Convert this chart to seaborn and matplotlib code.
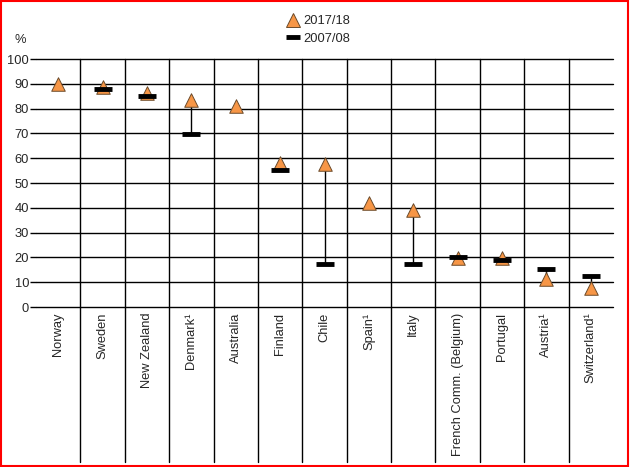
import numpy as np
import pandas as pd
import matplotlib
matplotlib.use("Agg")
import matplotlib.pyplot as plt
from matplotlib.lines import Line2D
from matplotlib.patches import Rectangle
import seaborn as sns

# ── Data ────────────────────────────────────────────────────────────────────
countries = ["Norway", "Sweden", "New Zealand", "Denmark\u00b9", "Australia",
             "Finland", "Chile", "Spain\u00b9", "Italy",
             "French Comm. (Belgium)", "Portugal", "Austria\u00b9",
             "Switzerland\u00b9"]
y2017 = [89.8, 88.9, 86.1, 83.3, 80.9, 58.2, 57.5, 42.0, 39.2, 19.9, 19.9, 11.4, 7.8]
y2007 = [np.nan, 88.1, 85.2, 69.6, np.nan, 55.1, 17.2, np.nan, 17.2, 20.3, 19.0, 15.3, 12.4]

df = pd.DataFrame({"country": countries, "y2017": y2017, "y2007": y2007})
df["pos"] = np.arange(len(df))

# ── Style ───────────────────────────────────────────────────────────────────
sns.set_theme(style="white")
plt.rcParams["font.family"] = ["Liberation Sans", "DejaVu Sans"]
FS = 9.3

fig = plt.figure(figsize=(6.3, 4.67), dpi=100)
ax = fig.add_axes([36/630, 1-307/467, (613-36)/630, (307-59)/467])

# connecting lines
both = df.dropna(subset=["y2007"])
ax.vlines(both["pos"], both["y2007"], both["y2017"], color="black", lw=1, zorder=2)

sns.scatterplot(data=df, x="pos", y="y2017", marker="^", s=95, color="#F79646",
                edgecolor="#6b4a2a", linewidth=0.7, ax=ax, zorder=3, legend=False,
                clip_on=False)
ax.scatter(both["pos"], both["y2007"], marker="_", s=165, color="black",
           linewidths=3.5, zorder=4)

ax.set_xlim(-0.5, len(df) - 0.5)
ax.set_ylim(0, 100)
ax.set_yticks(range(0, 101, 10))
ax.set_xticks(df["pos"])
ax.set_xticklabels(df["country"], rotation=90, va="top", fontsize=FS)
ax.tick_params(axis="y", labelsize=FS, length=4, width=1, color="black", pad=1, left=True)
ax.tick_params(axis="x", length=0, pad=4)
ax.set_xlabel("")
ax.set_ylabel("")

for sp in ax.spines.values():
    sp.set_visible(False)

for v in range(0, 101, 10):
    ax.axhline(v, color="black", lw=1, zorder=1, clip_on=False)
for b in np.arange(0.5, len(df) - 1, 1.0):
    ax.axvline(b, ymin=-0.625, ymax=1, color="black", lw=1, clip_on=False, zorder=1)

fig.text(20/630, 1-40/467, "%", ha="center", va="center", fontsize=FS)

handles = [
    Line2D([], [], marker="^", ls="none", markersize=10, markerfacecolor="#F79646",
           markeredgecolor="#6b4a2a", markeredgewidth=0.7),
    Line2D([], [], marker="_", ls="none", markersize=10, color="black",
           markeredgewidth=3.5),
]
fig.legend(handles, ["2017/18", "2007/08"], loc="center",
           bbox_to_anchor=(318/630, 1-30/467), frameon=False, fontsize=FS,
           handlelength=1.0, handletextpad=0.3, labelspacing=0.45, borderpad=0)

fig.patches.append(Rectangle((0.001, 0.002), 0.996, 0.996, transform=fig.transFigure,
                             fill=False, edgecolor="red", lw=1.5))

plt.savefig("out.png", dpi=100)
